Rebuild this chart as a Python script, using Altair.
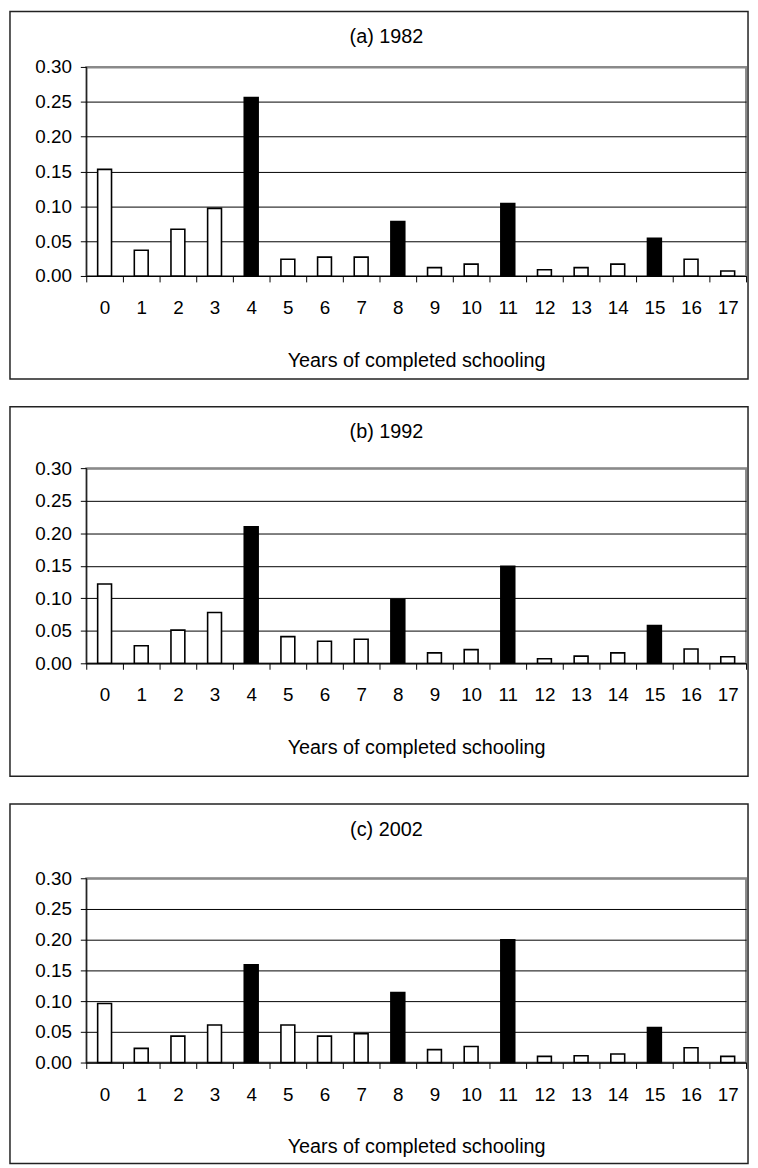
import altair as alt
import pandas as pd

# ---------------- data ----------------
years = list(range(18))
share_1982 = [0.153, 0.037, 0.067, 0.097, 0.256, 0.024, 0.027, 0.027, 0.078,
              0.012, 0.017, 0.104, 0.009, 0.012, 0.017, 0.054, 0.024, 0.007]
share_1992 = [0.122, 0.027, 0.051, 0.078, 0.210, 0.041, 0.034, 0.037, 0.098,
              0.016, 0.021, 0.149, 0.007, 0.011, 0.016, 0.058, 0.022, 0.010]
share_2002 = [0.096, 0.023, 0.043, 0.061, 0.159, 0.061, 0.043, 0.047, 0.114,
              0.021, 0.026, 0.200, 0.010, 0.011, 0.014, 0.057, 0.024, 0.010]
highlighted_years = [4, 8, 11, 15]
panel_titles = ["(a) 1982", "(b) 1992", "(c) 2002"]
x_title = "Years of completed schooling"
y_ticks = [0.00, 0.05, 0.10, 0.15, 0.20, 0.25, 0.30]

FONT = "Liberation Sans"
PLOT_W = 666
# per-panel layout (plot height, frame top/bottom offsets, title offset)
layouts = [
    dict(h=211, top=-56, bottom=104, ty=-30),
    dict(h=197, top=-62, bottom=114, ty=-36),
    dict(h=186, top=-75, bottom=102, ty=-49),
]
series = [share_1982, share_1992, share_2002]


def panel(values, title, lay):
    df = pd.DataFrame({
        "year": years,
        "share": values,
        "hl": [y in highlighted_years for y in years],
    })
    frame = alt.Chart(pd.DataFrame({"k": [0]})).mark_rect(
        fill="white", fillOpacity=0, stroke="#222222", strokeWidth=1.5
    ).encode(
        x=alt.value(-77), x2=alt.value(PLOT_W + 2),
        y=alt.value(lay["top"]), y2=alt.value(lay["h"] + lay["bottom"]),
    )
    bars = alt.Chart(df).mark_bar(
        size=14, stroke="black", strokeWidth=1.6
    ).encode(
        x=alt.X("year:O",
                scale=alt.Scale(paddingInner=0, paddingOuter=0),
                axis=alt.Axis(title=x_title, labelAngle=0, tickBand="extent",
                              tickSize=6, labelPadding=17, titlePadding=33,
                              domainColor="black", tickColor="black",
                              labelFontSize=19, titleFontSize=20,
                              titleFontWeight="normal", grid=False)),
        y=alt.Y("share:Q",
                scale=alt.Scale(domain=[0, 0.3], nice=False, zero=True),
                axis=alt.Axis(title=None, values=y_ticks, format=".2f",
                              tickSize=6, labelPadding=9, labelFontSize=19,
                              domainColor="black", tickColor="black",
                              grid=True,
                              gridColor={"condition": {"test": "datum.value >= 0.29",
                                                       "value": "#8a8a8a"},
                                         "value": "#000000"},
                              gridWidth={"condition": {"test": "datum.value >= 0.29",
                                                       "value": 2},
                                         "value": 1},
                              gridOpacity=1)),
        fill=alt.condition("datum.hl", alt.value("black"), alt.value("white")),
    )
    ttl = alt.Chart(pd.DataFrame({"t": [title]})).mark_text(
        font=FONT, fontSize=20, align="center", baseline="middle", color="black"
    ).encode(text="t:N", x=alt.value(303), y=alt.value(lay["ty"]))
    return alt.layer(frame, bars, ttl).properties(width=PLOT_W, height=lay["h"])


chart = alt.vconcat(
    *[panel(v, t, l) for v, t, l in zip(series, panel_titles, layouts)],
    spacing=24,
).properties(
    padding={"left": 0, "top": -4, "right": 0, "bottom": 0}
).configure_view(
    stroke="#8a8a8a", strokeWidth=2
).configure_axis(
    labelFont=FONT, titleFont=FONT, labelColor="black", titleColor="black"
)

chart.save("out.html", embed_options={"renderer": "svg", "actions": False})
